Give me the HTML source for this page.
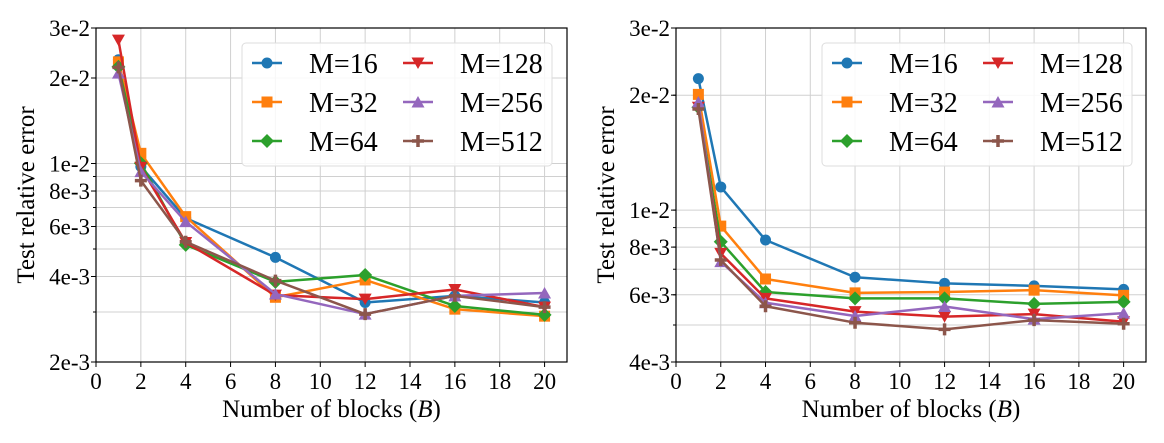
<!DOCTYPE html>
<html><head><meta charset="utf-8"><style>
body{margin:0;background:#fff;}
svg{display:block;font-family:"Liberation Serif",serif;}
</style></head><body>
<svg id="chart" width="1164" height="443" viewBox="0 0 1164 443"></svg>
<script>
const blocks = [1, 2, 4, 8, 12, 16, 20];
const seriesLabels = ["M=16", "M=32", "M=64", "M=128", "M=256", "M=512"];
const leftM16 = [0.0232, 0.00975, 0.00642, 0.00467, 0.00324, 0.00342, 0.00324];
const leftM32 = [0.0228, 0.01086, 0.0065, 0.00338, 0.00389, 0.00307, 0.0029];
const leftM64 = [0.0219, 0.01002, 0.00517, 0.00383, 0.00405, 0.00315, 0.00293];
const leftM128 = [0.0272, 0.0097, 0.00527, 0.00344, 0.00333, 0.0036, 0.00312];
const leftM256 = [0.0208, 0.00936, 0.00624, 0.00347, 0.00295, 0.00342, 0.0035];
const leftM512 = [0.0218, 0.0087, 0.0053, 0.00387, 0.00295, 0.00342, 0.00312];
const rightM16 = [0.0221, 0.0115, 0.00835, 0.00667, 0.00643, 0.00633, 0.0062];
const rightM32 = [0.0201, 0.00908, 0.0066, 0.00607, 0.0061, 0.00617, 0.00598];
const rightM64 = [0.0186, 0.00826, 0.0061, 0.00587, 0.00587, 0.00568, 0.00575];
const rightM128 = [0.0186, 0.0077, 0.00587, 0.00542, 0.00526, 0.00534, 0.0051];
const rightM256 = [0.0192, 0.00733, 0.00572, 0.00528, 0.00559, 0.00518, 0.00537];
const rightM512 = [0.0184, 0.0074, 0.0056, 0.00507, 0.00487, 0.00515, 0.00504];
const xTicks = [0, 2, 4, 6, 8, 10, 12, 14, 16, 18, 20];
const leftYTicks = [0.002, 0.004, 0.006, 0.008, 0.01, 0.02, 0.03];
const leftYTickLabels = ["2e-3", "4e-3", "6e-3", "8e-3", "1e-2", "2e-2", "3e-2"];
const rightYTicks = [0.004, 0.006, 0.008, 0.01, 0.02, 0.03];
const rightYTickLabels = ["4e-3", "6e-3", "8e-3", "1e-2", "2e-2", "3e-2"];
const minorGrid = [0.002,0.003,0.004,0.005,0.006,0.007,0.008,0.009,0.01,0.02,0.03];

const colors = ["#1f77b4","#ff7f0e","#2ca02c","#d62728","#9467bd","#8c564b"];
const markers = ["circle","square","diamond","tdown","tup","plus"];
const NS = "http://www.w3.org/2000/svg";
const svg = document.getElementById("chart");
function mk(tag, attrs, parent){const e=document.createElementNS(NS,tag);for(const k in attrs)e.setAttribute(k,attrs[k]);(parent||svg).appendChild(e);return e;}

function marker(g, type, x, y, c){
  let e;
  if(type==="circle") e=mk("circle",{cx:x,cy:y,r:5.5,fill:c},g);
  else if(type==="square") e=mk("rect",{x:x-5.5,y:y-5.5,width:11,height:11,fill:c},g);
  else if(type==="diamond") e=mk("polygon",{points:`${x},${y-7} ${x+7},${y} ${x},${y+7} ${x-7},${y}`,fill:c},g);
  else if(type==="tdown") e=mk("polygon",{points:`${x-6.5},${y-5.5} ${x+6.5},${y-5.5} ${x},${y+6}`,fill:c},g);
  else if(type==="tup") e=mk("polygon",{points:`${x-6.5},${y+5.5} ${x+6.5},${y+5.5} ${x},${y-6}`,fill:c},g);
  else e=mk("path",{d:`M${x-6},${y}H${x+6}M${x},${y-6}V${y+6}`,stroke:c,"stroke-width":3.5},g);
  
  
}

function panel(name, L, R, T, B, ymin, ymax, yTicks, yLabels, data){
  const g = mk("g",{});
  
  
  const xs = v => L + (v/21)*(R-L);
  const ys = v => B - Math.log(v/ymin)/Math.log(ymax/ymin)*(B-T);
  for(const v of minorGrid){ if(v<ymin-1e-9||v>ymax+1e-9) continue;
    const l=mk("line",{x1:L,x2:R,y1:ys(v),y2:ys(v),stroke:"#d0d0d0","stroke-width":1},g);
    
    
    mk("line",{x1:L-3,x2:L,y1:ys(v),y2:ys(v),stroke:"#000","stroke-width":1},g);
  }
  for(const v of xTicks){
    const l=mk("line",{x1:xs(v),x2:xs(v),y1:T,y2:B,stroke:"#d0d0d0","stroke-width":1},g);
    
    
    mk("line",{x1:xs(v),x2:xs(v),y1:B,y2:B+5,stroke:"#000","stroke-width":1},g);
    const t=mk("text",{x:xs(v),y:B+27,"text-anchor":"middle","font-size":23},g);
    t.textContent=v;
    
    
  }
  yTicks.forEach((v,i)=>{
    mk("line",{x1:L-5,x2:L,y1:ys(v),y2:ys(v),stroke:"#000","stroke-width":1},g);
    const t=mk("text",{x:L-6,y:ys(v)+8,"text-anchor":"end","font-size":23},g);
    t.textContent=yLabels[i];
    
    
  });
  data.forEach((arr,si)=>{
    const pts=arr.map((v,i)=>xs(blocks[i])+","+ys(v)).join(" ");
    const pl=mk("polyline",{points:pts,fill:"none",stroke:colors[si],"stroke-width":2.5,"stroke-linejoin":"round"},g);
    
    
    arr.forEach((v,i)=>marker(g,markers[si],xs(blocks[i]),ys(v),colors[si]));
  });
  const fr=mk("rect",{x:L,y:T,width:R-L,height:B-T,fill:"none",stroke:"#000","stroke-width":1.2},g);
  
  
  const lx=L+146, ly=T+15;
  const lg=mk("g",{},g);
  
  
  mk("rect",{x:lx,y:ly,width:310,height:123,rx:4,fill:"#fff","fill-opacity":0.85,stroke:"#ddd","stroke-width":1},lg);
  seriesLabels.forEach((s,i)=>{
    const col=Math.floor(i/3), row=i%3;
    const x0=lx+10+col*151, y0=ly+20+row*39;
    const e=mk("g",{},lg);
    
    
    mk("line",{x1:x0,x2:x0+30,y1:y0,y2:y0,stroke:colors[i],"stroke-width":2.5},e);
    marker(e,markers[i],x0+15,y0,colors[i]);
    const t=mk("text",{x:x0+57,y:y0+10,"font-size":28},e);
    t.textContent=s;
  });
  const xl=mk("text",{x:(L+R)/2,y:B+55,"text-anchor":"middle","font-size":25},g);
  xl.innerHTML='Number of blocks (<tspan font-style="italic">B</tspan>)';
  
  
  const yl=mk("text",{x:0,y:0,"text-anchor":"middle","font-size":25,transform:`translate(${L-62},${(T+B)/2}) rotate(-90)`},g);
  yl.textContent="Test relative error";
  
  
}
panel("left-chart",96,567,28,362,0.002,0.03,leftYTicks,leftYTickLabels,[leftM16,leftM32,leftM64,leftM128,leftM256,leftM512]);
panel("right-chart",676,1146,28,362,0.004,0.03,rightYTicks,rightYTickLabels,[rightM16,rightM32,rightM64,rightM128,rightM256,rightM512]);
</script>
</body></html>
